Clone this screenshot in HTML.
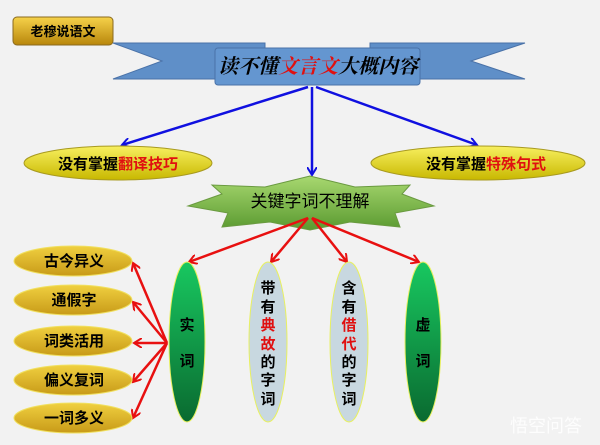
<!DOCTYPE html>
<html><head><meta charset="utf-8"><style>
body{margin:0;background:#f2f2f2;}
svg{display:block;font-family:"Liberation Sans","Noto Sans CJK SC",sans-serif;}
</style></head><body>
<svg width="600" height="445" viewBox="0 0 600 445">
<defs>
<linearGradient id="gold" x1="0" y1="0" x2="0" y2="1"><stop offset="0" stop-color="#f6d24a"/><stop offset="1" stop-color="#b8860b"/></linearGradient>
<linearGradient id="yel" x1="0" y1="0" x2="0" y2="1"><stop offset="0" stop-color="#f8f060"/><stop offset="1" stop-color="#c8b800"/></linearGradient>
<linearGradient id="grn" x1="0" y1="0" x2="0" y2="1"><stop offset="0" stop-color="#18c860"/><stop offset="1" stop-color="#0a6a30"/></linearGradient>
<linearGradient id="star" x1="0" y1="0" x2="0" y2="1"><stop offset="0" stop-color="#a8d870"/><stop offset="1" stop-color="#5a9a30"/></linearGradient>
<linearGradient id="gold2" x1="0" y1="0" x2="0" y2="1"><stop offset="0" stop-color="#f0d040"/><stop offset="1" stop-color="#c89a18"/></linearGradient>
<marker id="ab" markerWidth="10" markerHeight="10" refX="8" refY="5" orient="auto" markerUnits="userSpaceOnUse"><path d="M0,0 L8,5 L0,10" fill="none" stroke="#1010e0" stroke-width="2"/></marker>
<marker id="ar" markerWidth="10" markerHeight="10" refX="8" refY="5" orient="auto" markerUnits="userSpaceOnUse"><path d="M0,0 L8,5 L0,10" fill="none" stroke="#e81010" stroke-width="2"/></marker>
</defs>
<!-- badge -->
<rect x="13" y="17" width="100" height="28" rx="4" fill="url(#gold)" stroke="#8a6a20"/>
<text x="63" y="36" text-anchor="middle" font-size="13" font-weight="bold">老穆说语文</text>
<!-- ribbon -->
<polygon points="113,43 265,43 265,79 113,79 162,61" fill="#5f8fc8" stroke="#4a72a8"/>
<polygon points="525,43 370,43 370,79 525,79 471,61" fill="#5f8fc8" stroke="#4a72a8"/>
<rect x="215" y="48" width="205" height="37" rx="3" fill="#6496d0" stroke="#4a72a8"/>
<text x="318" y="73" text-anchor="middle" font-size="20" font-weight="bold" font-style="italic" font-family="'Liberation Serif','Noto Serif CJK SC',serif">读不懂<tspan fill="#e01010">文言文</tspan>大概内容</text>
<!-- blue arrows -->
<g stroke="#1010e0" stroke-width="2.5" marker-end="url(#ab)">
<line x1="308" y1="87" x2="122" y2="145"/>
<line x1="312" y1="87" x2="312" y2="175"/>
<line x1="316" y1="87" x2="477" y2="145"/>
</g>
<!-- yellow ellipses -->
<ellipse cx="118" cy="163" rx="94" ry="17" fill="url(#yel)" stroke="#a89a20"/>
<ellipse cx="478" cy="163" rx="107" ry="17" fill="url(#yel)" stroke="#a89a20"/>
<text x="118" y="169" text-anchor="middle" font-size="15" font-weight="bold">没有掌握<tspan fill="#e01010">翻译技巧</tspan></text>
<text x="486" y="169" text-anchor="middle" font-size="15" font-weight="bold">没有掌握<tspan fill="#e01010">特殊句式</tspan></text>
<!-- star -->
<polygon points="188,206 222,194 212,185 265,187 310,176 355,187 410,185 402,194 434,206 395,213 400,227 350,222 310,230 270,222 222,227 228,213" fill="url(#star)" stroke="#6a9a40"/>
<text x="310" y="207" text-anchor="middle" font-size="17">关键字词不理解</text>
<!-- red arrows -->
<g stroke="#e81010" stroke-width="2.5" marker-end="url(#ar)">
<line x1="308" y1="218" x2="189" y2="262"/>
<line x1="308" y1="218" x2="271" y2="262"/>
<line x1="312" y1="218" x2="347" y2="262"/>
<line x1="312" y1="218" x2="419" y2="262"/>
<line x1="167" y1="343" x2="133" y2="263"/>
<line x1="167" y1="343" x2="133" y2="302"/>
<line x1="167" y1="343" x2="134" y2="343"/>
<line x1="167" y1="343" x2="133" y2="382"/>
<line x1="167" y1="343" x2="133" y2="418"/>
</g>
<!-- gold ellipses -->
<g fill="url(#gold2)" stroke="#f0e060" stroke-width="1">
<ellipse cx="73" cy="261" rx="59" ry="15"/>
<ellipse cx="73" cy="300" rx="59" ry="15"/>
<ellipse cx="73" cy="341" rx="59" ry="15"/>
<ellipse cx="73" cy="380" rx="59" ry="15"/>
<ellipse cx="73" cy="418" rx="59" ry="15"/>
</g>
<g font-size="15" font-weight="bold" text-anchor="middle">
<text x="74" y="266">古今异义</text>
<text x="74" y="305">通假字</text>
<text x="74" y="346">词类活用</text>
<text x="74" y="385">偏义复词</text>
<text x="74" y="423">一词多义</text>
</g>
<!-- tall ellipses -->
<ellipse cx="187" cy="342" rx="18" ry="80" fill="url(#grn)" stroke="#e8f060"/>
<ellipse cx="268" cy="342" rx="19" ry="80" fill="#c8d8e0" stroke="#e8f060"/>
<ellipse cx="349" cy="342" rx="19" ry="80" fill="#c8d8e0" stroke="#e8f060"/>
<ellipse cx="423" cy="342" rx="18" ry="80" fill="url(#grn)" stroke="#e8f060"/>
<g font-size="15" font-weight="bold" text-anchor="middle">
<text x="187" y="330">实</text><text x="187" y="366">词</text>
<text x="423" y="330">虚</text><text x="423" y="366">词</text>
<text x="268" y="293">带</text><text x="268" y="312">有</text><text x="268" y="330" fill="#e01010">典</text><text x="268" y="349" fill="#e01010">故</text><text x="268" y="367">的</text><text x="268" y="385">字</text><text x="268" y="404">词</text>
<text x="349" y="293">含</text><text x="349" y="312">有</text><text x="349" y="330" fill="#e01010">借</text><text x="349" y="349" fill="#e01010">代</text><text x="349" y="367">的</text><text x="349" y="385">字</text><text x="349" y="404">词</text>
</g>
<text x="510" y="432" font-size="18" fill="#ffffff" opacity="0.85">悟空问答</text>
</svg>
</body></html>
